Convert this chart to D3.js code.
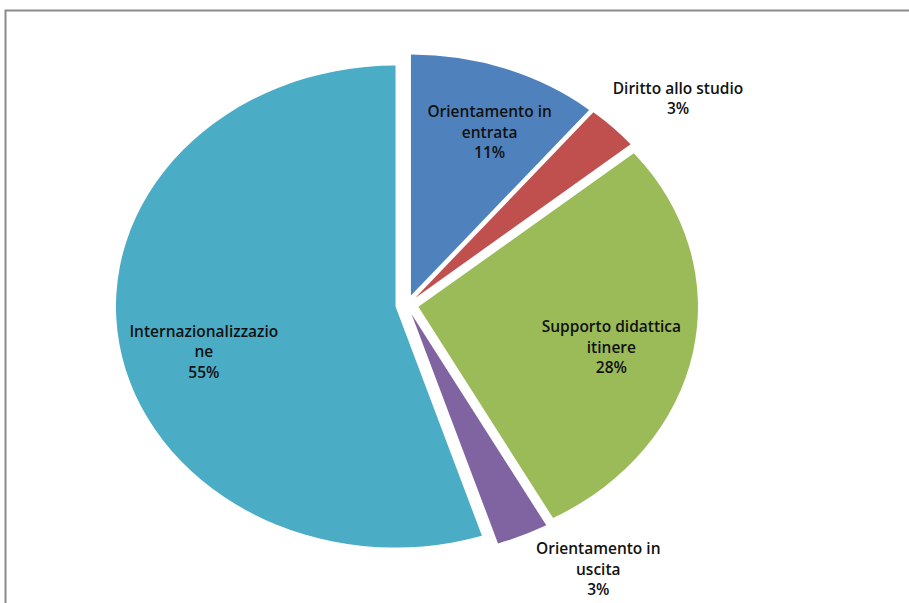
<!DOCTYPE html>
<html>
<head>
<meta charset="utf-8">
<script src="https://cdn.jsdelivr.net/npm/d3@7"></script>
<style>
  html, body { margin: 0; padding: 0; background: #ffffff; }
  svg { display: block; }
</style>
</head>
<body>
<svg id="chart" width="909" height="603"></svg>
<script>
// ---- data ----
const categories = ["Orientamento in entrata", "Diritto allo studio", "Supporto didattica itinere", "Orientamento in uscita", "Internazionalizzazione"];
const labelLines = [["Orientamento in", "entrata"], ["Diritto allo studio"], ["Supporto didattica", "itinere"], ["Orientamento in", "uscita"], ["Internazionalizzazio", "ne"]];
const values = [11, 3, 28, 3, 55];
const colors = ["#4F81BD", "#C0504D", "#9BBB59", "#8064A2", "#4BACC6"];

// ---- layout ----
const W = 909, H = 603;
const cx = 407, cy = 305;
const R = 241;          // vertical radius
const sx = 1.16;        // horizontal stretch of the plot
const explode = 10;
const labelInside = 0.71, labelOutside = 1.25;
const outsideIdx = [1, 3];
const angleNudge = [0.045, 0.06, 0.045, -0.15, -0.1]; // radians
const radiusNudge = [6, 1, 0, 0, 0];                  // px

const svg = d3.select("#chart");

// frame
svg.append("path")
  .attr("d", `M5.5,${H} L5.5,10.5 L${W},10.5`)
  .attr("fill", "none").attr("stroke", "#8a8a8a").attr("stroke-width", 2);

const pie = d3.pie().sort(null).value(d => d);
const arcs = pie(values);
const arc = d3.arc().innerRadius(0).outerRadius(R);

const g = svg.append("g").attr("transform", `translate(${cx},${cy}) scale(${sx},1)`);

g.selectAll("path.slice").data(arcs).enter().append("path")
  .attr("class", "slice")
  .attr("d", arc)
  .attr("fill", (d, i) => colors[i])
  .attr("transform", d => {
    const a = (d.startAngle + d.endAngle) / 2;
    return `translate(${explode * Math.sin(a)},${-explode * Math.cos(a)})`;
  });

// labels
const lg = svg.append("g").attr("transform", `translate(${cx},${cy})`);
const total = d3.sum(values);
arcs.forEach((d, i) => {
  const a = (d.startAngle + d.endAngle) / 2 + angleNudge[i];
  const rr = R * (outsideIdx.includes(i) ? labelOutside : labelInside) + explode + radiusNudge[i];
  const x = rr * Math.sin(a) * sx;
  const y = -rr * Math.cos(a);
  const lines = labelLines[i].concat([Math.round(values[i] / total * 100) + "%"]);
  const lh = 20.5;
  const t = lg.append("text")
    .attr("x", x).attr("y", y - (lines.length - 1) * lh / 2)
    .attr("text-anchor", "middle")
    .attr("dominant-baseline", "central")
    .style("font-family", "'Open Sans', 'Noto Sans', sans-serif")
    .style("font-weight", 600)
    .style("font-size", "15.5px")
    .attr("fill", "#111");
  lines.forEach((s, k) => {
    t.append("tspan").attr("x", x).attr("dy", k === 0 ? 0 : lh).text(s);
  });
});
</script>
</body>
</html>
